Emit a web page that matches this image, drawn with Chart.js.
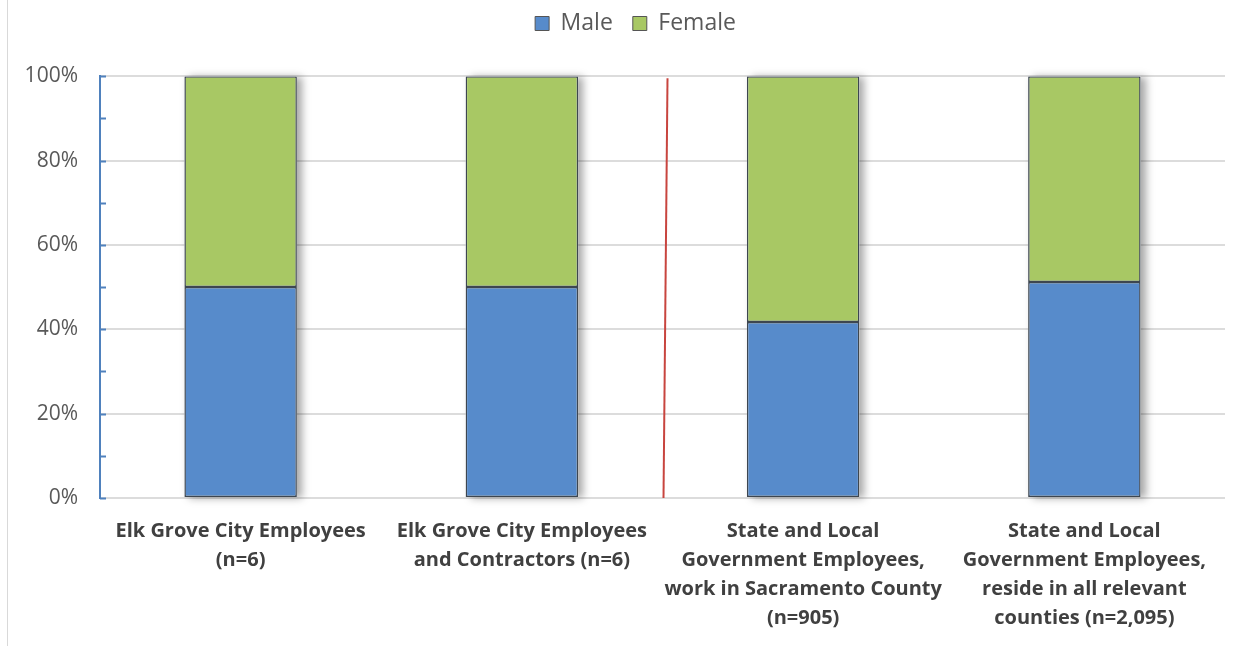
<!DOCTYPE html>
<html>
<head>
<meta charset="utf-8">
<script src="https://cdn.jsdelivr.net/npm/chart.js@4/dist/chart.umd.min.js"></script>
<style>
  html, body { margin: 0; padding: 0; background: #fff; }
  #wrap { position: relative; width: 1250px; height: 646px; }
  #frame { position: absolute; left: 7px; top: 0; width: 0; height: 646px; border-left: 1.5px solid #d9d9d9; }
  canvas { position: absolute; left: 0; top: 0; }
</style>
</head>
<body>
<div id="wrap">
  <div id="frame"></div>
  <canvas id="c" width="1250" height="646"></canvas>
</div>
<script>
// Workforce gender composition, share of each group
const categories = [
  ['Elk Grove City Employees', '(n=6)'],
  ['Elk Grove City Employees', 'and Contractors (n=6)'],
  ['State and Local', 'Government Employees,', 'work in Sacramento County', '(n=905)'],
  ['State and Local', 'Government Employees,', 'reside in all relevant', 'counties (n=2,095)']
];
const maleShare = [50, 50, 41.7, 51.2];
const femaleShare = [50, 50, 58.3, 48.8];
const yTicks = [0, 20, 40, 60, 80, 100];

const BLUE = '#578BCB';
const GREEN = '#A8C864';
const AXIS_BLUE = '#4F81BD';
const TEXT = '#595959';
const FONT = '"Open Sans", Lato, sans-serif';

// Soft shadow cast to the right of each stacked column
const barShadow = {
  id: 'barShadow',
  beforeDatasetsDraw(chart) {
    const metas = chart.getSortedVisibleDatasetMetas();
    if (!metas.length) return;
    const ctx = chart.ctx;
    const top = metas[metas.length - 1];
    ctx.save();
    ctx.shadowColor = 'rgba(0,0,0,0.35)';
    ctx.shadowBlur = 8;
    ctx.shadowOffsetX = 5;
    ctx.shadowOffsetY = 1;
    ctx.fillStyle = '#ffffff';
    metas[0].data.forEach((bar, i) => {
      const t = top.data[i];
      const w = bar.width;
      ctx.fillRect(bar.x - w / 2, t.y, w, bar.base - t.y);
    });
    ctx.restore();
  }
};

// Short inward tick marks on the value axis, one every 10%
const innerTicks = {
  id: 'innerTicks',
  afterDraw(chart) {
    const y = chart.scales.y;
    const ctx = chart.ctx;
    ctx.save();
    ctx.strokeStyle = AXIS_BLUE;
    ctx.lineWidth = 2;
    for (let v = 0; v <= 100; v += 10) {
      const py = Math.round(y.getPixelForValue(v)) + 0.5;
      ctx.beginPath();
      ctx.moveTo(chart.chartArea.left, py);
      ctx.lineTo(chart.chartArea.left + 6, py);
      ctx.stroke();
    }
    ctx.restore();
  }
};

// Red divider between the city groups and the regional comparison groups
const divider = {
  id: 'divider',
  afterDatasetsDraw(chart) {
    const x = chart.scales.x;
    const y = chart.scales.y;
    const mid = (x.getPixelForValue(1) + x.getPixelForValue(2)) / 2;
    const ctx = chart.ctx;
    ctx.save();
    ctx.strokeStyle = '#C8453F';
    ctx.lineWidth = 2;
    ctx.beginPath();
    ctx.moveTo(mid + 5, y.getPixelForValue(99.5));
    ctx.lineTo(mid + 1, y.getPixelForValue(0));
    ctx.stroke();
    ctx.restore();
  }
};

// Centre the legend over the plot rather than the whole canvas
const legendShift = {
  id: 'legendShift',
  afterLayout(chart) {
    const lg = chart.legend;
    if (!lg) return;
    const dx = 23;
    lg.left += dx;
    lg.right += dx;
  }
};

new Chart(document.getElementById('c'), {
  type: 'bar',
  data: {
    labels: categories,
    datasets: [
      { label: 'Male', data: maleShare, backgroundColor: BLUE, borderColor: '#3d4650', borderWidth: 1.5, borderSkipped: false },
      { label: 'Female', data: femaleShare, backgroundColor: GREEN, borderColor: '#3d4650', borderWidth: 1.5, borderSkipped: false }
    ]
  },
  options: {
    responsive: false,
    animation: false,
    layout: { padding: { left: 0, right: 25, top: -8, bottom: 0 } },
    datasets: { bar: { categoryPercentage: 1, barPercentage: 0.4 } },
    plugins: {
      tooltip: { enabled: false },
      // empty spacer between legend and plot
      title: { display: true, text: '', weight: 500, font: { size: 1 }, padding: { top: 0, bottom: 30 } },
      legend: {
        position: 'top',
        labels: {
          boxWidth: 14,
          boxHeight: 14,
          padding: 20,
          color: TEXT,
          font: { family: FONT, size: 23 },
          generateLabels(chart) {
            return chart.data.datasets.map((d, i) => ({
              text: d.label,
              fillStyle: d.backgroundColor,
              strokeStyle: '#555',
              lineWidth: 1,
              fontColor: TEXT,
              datasetIndex: i
            }));
          }
        }
      }
    },
    scales: {
      x: {
        stacked: true,
        grid: { display: false },
        border: { display: false },
        ticks: {
          color: '#404040',
          maxRotation: 0,
          autoSkip: false,
          padding: 11,
          font: { family: FONT, size: 20, weight: 'bold', lineHeight: '29px' }
        },
        afterFit(scale) { scale.height = 148; }
      },
      y: {
        stacked: true,
        min: 0,
        max: 100,
        afterBuildTicks(scale) { scale.ticks = yTicks.map(v => ({ value: v })); },
        grid: { color: '#dcdcdc', lineWidth: 2, drawTicks: false },
        border: { display: true, color: AXIS_BLUE, width: 2 },
        ticks: {
          color: TEXT,
          padding: 22,
          font: { family: FONT, size: 21 },
          callback: v => v + '%'
        },
        afterFit(scale) { scale.width = 100; }
      }
    }
  },
  plugins: [barShadow, innerTicks, divider, legendShift]
});
</script>
</body>
</html>
